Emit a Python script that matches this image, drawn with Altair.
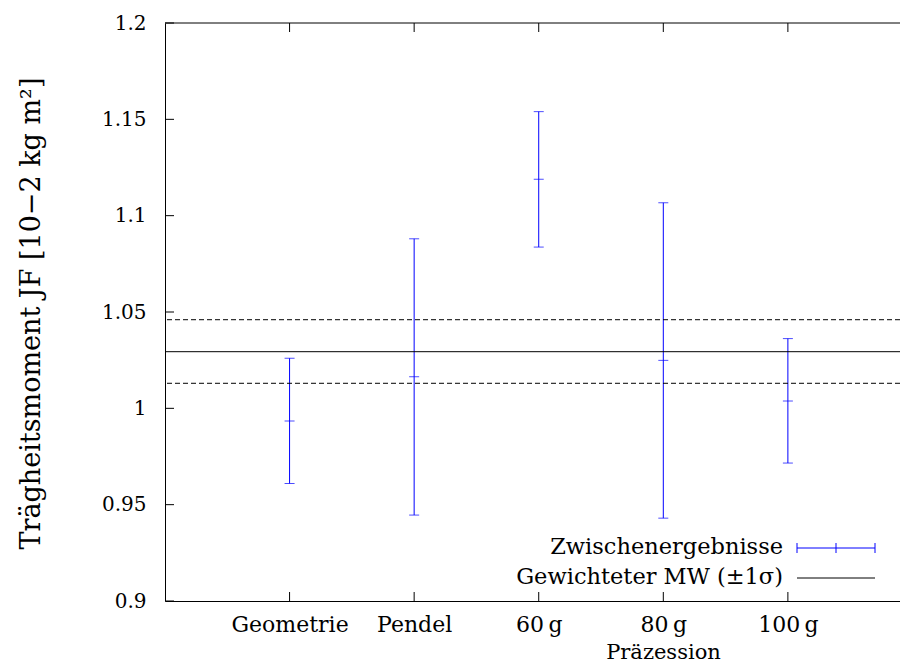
import json
import altair as alt
import pandas as pd

# ---- data ----
categories = ["Geometrie", "Pendel", "60\u2009g", "80\u2009g", "100\u2009g"]
positions = [1, 2, 3, 4, 5]
values = [0.9934, 1.0164, 1.1189, 1.0249, 1.0038]
lower = [0.9610, 0.9446, 1.0837, 0.9430, 0.9716]
upper = [1.0260, 1.0880, 1.1540, 1.1067, 1.0362]
mean_value = [1.0294]
mean_band = [1.0130, 1.0460]
y_ticks = [0.9, 0.95, 1.0, 1.05, 1.1, 1.15, 1.2]

FONT = "DejaVu Serif"
W, H = 735, 578
BLUE = "#0000ff"

df = pd.DataFrame({"pos": positions, "cat": categories, "val": values,
                   "lo": lower, "hi": upper})
mean_df = pd.DataFrame({"m": mean_value})
band_df = pd.DataFrame({"m": mean_band})
ytick_df = pd.DataFrame({"t": y_ticks})
one = alt.Data(values=[{}])

label_arr = json.dumps([""] + categories)

xscale = alt.Scale(domain=[0, 5.9], nice=False, zero=False)
yscale = alt.Scale(domain=[0.9, 1.2], nice=False, zero=False)

xenc = alt.X("pos:Q", scale=xscale, axis=alt.Axis(
    values=positions, labelExpr=f"{label_arr}[datum.value]",
    ticks=False, grid=False, domainColor="black", domainWidth=1,
    labelFont=FONT, labelFontSize=22, labelColor="black", labelPadding=13,
    title="Präzession", titleFont=FONT, titleFontSize=21, titleFontWeight="normal",
    titleColor="black", titleX=498, titleY=51, titleBaseline="middle",
    titleAnchor="middle", titleAlign="center"))
yenc = alt.Y("lo:Q", scale=yscale, axis=alt.Axis(
    values=y_ticks, format="~g", ticks=False, grid=False,
    domainColor="black", domainWidth=1,
    labelFont=FONT, labelFontSize=20, labelColor="black", labelPadding=19,
    title="Trägheitsmoment JF [10−2 kg m²]", titleFont=FONT, titleFontSize=27,
    titleFontWeight="normal", titleColor="black", titleAngle=270,
    titleX=-134, titleY=290, titleBaseline="middle", titleAlign="center"))

base = alt.Chart(df)

bars = base.mark_rule(color=BLUE, strokeWidth=1).encode(x=xenc, y=yenc, y2="hi:Q")
cap_lo = base.mark_tick(color=BLUE, orient="horizontal", size=10, thickness=1).encode(
    x=alt.X("pos:Q", scale=xscale), y=alt.Y("lo:Q", scale=yscale))
cap_hi = base.mark_tick(color=BLUE, orient="horizontal", size=10, thickness=1).encode(
    x=alt.X("pos:Q", scale=xscale), y=alt.Y("hi:Q", scale=yscale))
center = base.mark_tick(color=BLUE, orient="horizontal", size=10, thickness=1).encode(
    x=alt.X("pos:Q", scale=xscale), y=alt.Y("val:Q", scale=yscale))

mean_line = alt.Chart(mean_df).mark_rule(color="black", strokeWidth=1).encode(
    y=alt.Y("m:Q", scale=yscale))
band_lines = alt.Chart(band_df).mark_rule(color="black", strokeWidth=1,
                                          strokeDash=[5, 3]).encode(
    y=alt.Y("m:Q", scale=yscale))

# frame: top border and inward ticks (gnuplot style)
top_border = alt.Chart(one).mark_rule(color="black", strokeWidth=1).encode(
    x=alt.value(0), x2=alt.value(W), y=alt.value(0))
left_ticks = alt.Chart(ytick_df).mark_rule(color="black", strokeWidth=1).encode(
    y=alt.Y("t:Q", scale=yscale), x=alt.value(0), x2=alt.value(9))
bottom_ticks = base.mark_rule(color="black", strokeWidth=1).encode(
    x=alt.X("pos:Q", scale=xscale), y=alt.value(H), y2=alt.value(H - 9))
top_ticks = base.mark_rule(color="black", strokeWidth=1).encode(
    x=alt.X("pos:Q", scale=xscale), y=alt.value(0), y2=alt.value(9))

# legend (bottom right)
leg_text1 = alt.Chart(one).mark_text(font=FONT, fontSize=22.5, align="right",
                                     baseline="middle", color="black").encode(
    x=alt.value(618), y=alt.value(524), text=alt.value("Zwischenergebnisse"))
leg_text2 = alt.Chart(one).mark_text(font=FONT, fontSize=22.5, align="right",
                                     baseline="middle", color="black").encode(
    x=alt.value(618), y=alt.value(554), text=alt.value("Gewichteter MW (±1σ)"))
leg_blue = alt.Chart(one).mark_rule(color=BLUE, strokeWidth=1).encode(
    x=alt.value(632), x2=alt.value(710), y=alt.value(525))
leg_blue_l = alt.Chart(one).mark_rule(color=BLUE, strokeWidth=1).encode(
    x=alt.value(632), y=alt.value(520), y2=alt.value(530))
leg_blue_r = alt.Chart(one).mark_rule(color=BLUE, strokeWidth=1).encode(
    x=alt.value(710), y=alt.value(520), y2=alt.value(530))
leg_blue_c = alt.Chart(one).mark_rule(color=BLUE, strokeWidth=1).encode(
    x=alt.value(671), y=alt.value(520), y2=alt.value(530))
leg_black = alt.Chart(one).mark_rule(color="black", strokeWidth=1).encode(
    x=alt.value(632), x2=alt.value(710), y=alt.value(555))

chart = alt.layer(
    bars, cap_lo, cap_hi, center, mean_line, band_lines,
    top_border, left_ticks, bottom_ticks, top_ticks,
    leg_text1, leg_text2, leg_blue, leg_blue_l, leg_blue_r, leg_blue_c, leg_black,
).properties(
    width=W, height=H,
    padding={"left": 165, "top": 23, "right": 0, "bottom": 65},
    autosize=alt.AutoSizeParams(type="none"),
    background="white",
).configure_view(stroke=None)

chart.save("out.html", embed_options={"renderer": "svg", "actions": False})
